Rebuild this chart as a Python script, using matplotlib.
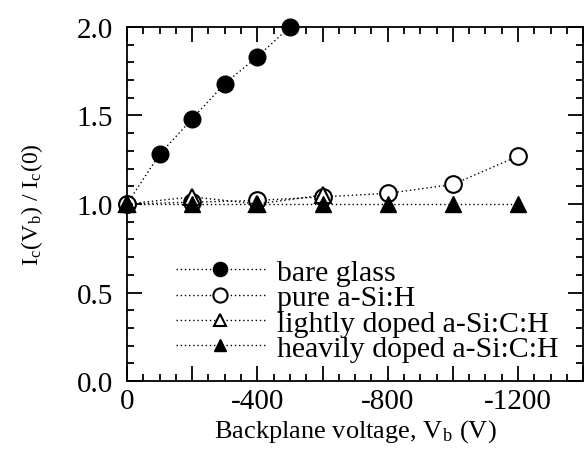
import numpy as np
import matplotlib
matplotlib.use('Agg')
import matplotlib.pyplot as plt
from matplotlib.ticker import MultipleLocator, FuncFormatter

plt.rcParams['font.family'] = ['Liberation Serif', 'DejaVu Serif']
plt.rcParams['mathtext.fontset'] = 'stix'

# backplane voltage (V) and normalised current
x_bare = [0, -100, -200, -300, -400, -500]
y_bare = [1.0, 1.28, 1.48, 1.68, 1.83, 2.0]

x_pure = [0, -200, -400, -600, -800, -1000, -1200]
y_pure = [1.0, 1.01, 1.02, 1.04, 1.06, 1.11, 1.27]

x_light = [0, -200, -400, -600]
y_light = [1.0, 1.04, 1.0, 1.05]

x_heavy = [0, -200, -400, -600, -800, -1000, -1200]
y_heavy = [1.0, 1.0, 1.0, 1.0, 1.0, 1.0, 1.0]

labels = ['bare glass', 'pure a-Si:H', 'lightly doped a-Si:C:H', 'heavily doped a-Si:C:H']

fig = plt.figure(figsize=(5.85, 4.56), dpi=100)
ax = fig.add_axes([0.217, 0.162, 0.78, 0.777])

ls = (0, (1, 2))
ax.plot(x_bare, y_bare, 'o', ls=ls, color='k', lw=1, ms=12, mfc='k', mec='k', clip_on=False, zorder=3)
ax.plot(x_pure, y_pure, 'o', ls=ls, color='k', lw=1, ms=12, mfc='white', mec='k', mew=1.5, clip_on=False, zorder=4)
ax.plot(x_light, y_light, '^', ls=ls, color='k', lw=1, ms=11, mfc='white', mec='k', mew=1.5, clip_on=False, zorder=5)
ax.plot(x_heavy, y_heavy, '^', ls=ls, color='k', lw=1, ms=11, mfc='k', mec='k', clip_on=False, zorder=6)

ax.set_xlim(0, -1400)
ax.set_ylim(0, 2.0)

ax.xaxis.set_major_locator(MultipleLocator(200))
ax.xaxis.set_minor_locator(MultipleLocator(50))
ax.xaxis.set_major_formatter(FuncFormatter(lambda v, p: '%d' % v if round(v) % 400 == 0 else ''))
ax.yaxis.set_major_locator(MultipleLocator(0.5))
ax.yaxis.set_minor_locator(MultipleLocator(0.1))
ax.yaxis.set_major_formatter(FuncFormatter(lambda v, p: '%.1f' % v))

ax.tick_params(which='both', direction='in', top=True, right=True, labelsize=21, width=1.3)
ax.tick_params(which='major', length=11)
ax.tick_params(which='minor', length=5)
ax.tick_params(axis='x', which='major', pad=5)
ax.tick_params(axis='y', which='major', pad=10)
for s in ax.spines.values():
    s.set_linewidth(1.3)

ax.set_xlabel('Backplane voltage, V$_\\mathregular{b}$ (V)', fontsize=19, labelpad=2)
ax.set_ylabel('I$_\\mathregular{c}$(V$_\\mathregular{b}$) / I$_\\mathregular{c}$(0)', fontsize=17, labelpad=23)

leg = ax.legend(labels, loc='lower left', bbox_to_anchor=(0.074, 0.012), fontsize=21.5,
                frameon=False, handlelength=3.0, handletextpad=0.38, labelspacing=-0.05,
                borderpad=0.0, markerscale=0.85)

fig.savefig('out.png', dpi=100)
